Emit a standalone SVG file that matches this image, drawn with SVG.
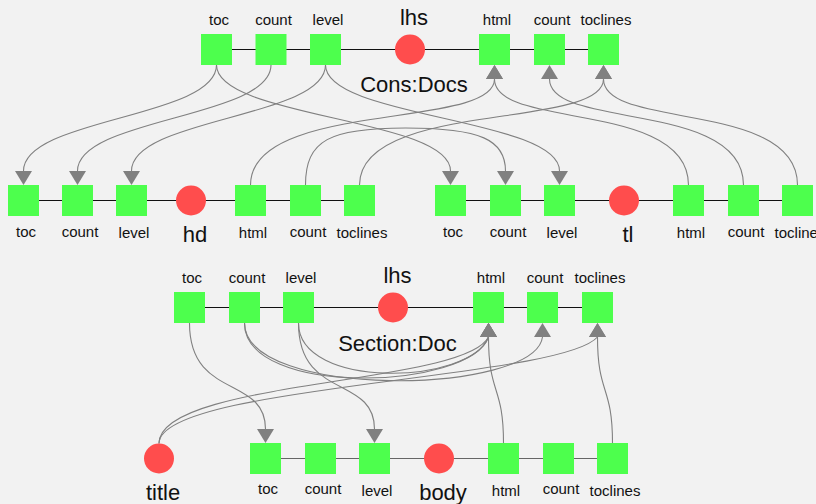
<svg xmlns="http://www.w3.org/2000/svg" width="816" height="504" viewBox="0 0 816 504">
<defs>
<style>
.bg{fill:#f2f2f2}
.sq{fill:#4dff4d}
.ci{fill:#ff4d4d}
.row{stroke:#111;stroke-width:1;fill:none}
.row2{stroke:#666;stroke-width:1.2;fill:none}
.e{stroke:#808080;stroke-width:1.1;fill:none}
.dn{marker-end:url(#ad)}
.up{marker-end:url(#au)}
text{font-family:"Liberation Sans",Arial,sans-serif;fill:#111;text-anchor:middle}
.s{font-size:15px}
.b{font-size:22px}
</style>
<marker id="ad" viewBox="0 0 17 14" refX="8.5" refY="0" markerWidth="17" markerHeight="14" markerUnits="userSpaceOnUse" orient="0"><path d="M0,0 L17,0 L8.5,14 z" fill="#808080"/></marker>
<marker id="au" viewBox="0 0 17 14" refX="8.5" refY="14" markerWidth="17" markerHeight="14" markerUnits="userSpaceOnUse" orient="0"><path d="M0,14 L17,14 L8.5,0 z" fill="#808080"/></marker>
</defs>
<rect class="bg" x="0" y="0" width="816" height="504"/>
<g id="connectors">
<line class="row" x1="216.5" y1="49.5" x2="603.5" y2="49.5"/>
<line class="row" x1="23.5" y1="200.5" x2="359.5" y2="200.5"/>
<line class="row" x1="450.5" y1="200.5" x2="797.5" y2="200.5"/>
<line class="row" x1="189.5" y1="307.5" x2="597.5" y2="307.5"/>
<line class="row2" x1="265.5" y1="458.5" x2="612.5" y2="458.5"/>
<path class="e dn" d="M216.5,65 C216.5,118 23.5,118 23.5,171"/>
<path class="e dn" d="M216.5,65 C216.5,118 450.5,118 450.5,171"/>
<path class="e dn" d="M271,65 C271,118 77.5,118 77.5,171"/>
<path class="e dn" d="M325.5,65 C325.5,118 131.5,118 131.5,171"/>
<path class="e dn" d="M325.5,65 C325.5,118 559.5,118 559.5,171"/>
<path class="e dn" d="M305.5,185 C305.5,140 330,128 405.5,128 C481,128 505.5,140 505.5,171"/>
<path class="e up" d="M250.5,185 C250.5,100 494.5,130 494.5,79"/>
<path class="e up" d="M688.5,185 C688.5,100 494.5,130 494.5,79"/>
<path class="e up" d="M359.5,185 C359.5,100 603.5,130 603.5,79"/>
<path class="e up" d="M797.5,185 C797.5,100 603.5,130 603.5,79"/>
<path class="e up" d="M743.5,185 C743.5,100 549.5,130 549.5,79"/>
<path class="e dn" d="M189.5,323 C189.5,400 265.5,375 265.5,429"/>
<path class="e dn" d="M298.5,323 C298.5,400 374.5,375 374.5,429"/>
<path class="e up" d="M244.5,323 C244.5,398 470,390 488.5,337"/>
<path class="e up" d="M244.5,323 C244.5,400 535,395 542.5,337"/>
<path class="e up" d="M298.5,323 C298.5,390 470,385 488.5,337"/>
<path class="e up" d="M159,443.5 C159,380 465,385 488.5,337"/>
<path class="e up" d="M159,443.5 C159,385 560,380 597.5,337"/>
<path class="e up" d="M503.5,443 C503.5,385 488.5,395 488.5,337"/>
<path class="e up" d="M612.5,443 C612.5,385 597.5,395 597.5,337"/>
</g>
<g id="cons-docs-label"><text class="b" x="414" y="91.5">Cons:Docs</text></g>
<g id="cd-toc"><rect class="sq" x="201" y="34" width="31" height="31"/><text class="s" x="219" y="25">toc</text></g>
<g id="cd-count-inh"><rect class="sq" x="255.5" y="34" width="31" height="31"/><text class="s" x="273.5" y="25">count</text></g>
<g id="cd-level"><rect class="sq" x="310" y="34" width="31" height="31"/><text class="s" x="328" y="25">level</text></g>
<g id="cd-lhs"><circle class="ci" cx="410" cy="49.5" r="15"/><text class="b" x="414" y="24.5">lhs</text></g>
<g id="cd-html"><rect class="sq" x="479" y="34" width="31" height="31"/><text class="s" x="497" y="25">html</text></g>
<g id="cd-count-syn"><rect class="sq" x="534" y="34" width="31" height="31"/><text class="s" x="552" y="25">count</text></g>
<g id="cd-toclines"><rect class="sq" x="588" y="34" width="31" height="31"/><text class="s" x="606" y="25">toclines</text></g>
<g id="hd-toc"><rect class="sq" x="8" y="185" width="31" height="31"/><text class="s" x="26" y="236.5">toc</text></g>
<g id="hd-count-inh"><rect class="sq" x="62" y="185" width="31" height="31"/><text class="s" x="80" y="236.5">count</text></g>
<g id="hd-level"><rect class="sq" x="116" y="185" width="31" height="31"/><text class="s" x="134" y="238">level</text></g>
<g id="hd"><circle class="ci" cx="191" cy="200.5" r="15"/><text class="b" x="195" y="241.5">hd</text></g>
<g id="hd-html"><rect class="sq" x="235" y="185" width="31" height="31"/><text class="s" x="253" y="238">html</text></g>
<g id="hd-count-syn"><rect class="sq" x="290" y="185" width="31" height="31"/><text class="s" x="308" y="236.5">count</text></g>
<g id="hd-toclines"><rect class="sq" x="344" y="185" width="31" height="31"/><text class="s" x="362" y="238">toclines</text></g>
<g id="tl-toc"><rect class="sq" x="435" y="185" width="31" height="31"/><text class="s" x="453" y="236.5">toc</text></g>
<g id="tl-count-inh"><rect class="sq" x="490" y="185" width="31" height="31"/><text class="s" x="508" y="236.5">count</text></g>
<g id="tl-level"><rect class="sq" x="544" y="185" width="31" height="31"/><text class="s" x="562" y="238">level</text></g>
<g id="tl"><circle class="ci" cx="624" cy="200.5" r="15"/><text class="b" x="628" y="241.5">tl</text></g>
<g id="tl-html"><rect class="sq" x="673" y="185" width="31" height="31"/><text class="s" x="691" y="238">html</text></g>
<g id="tl-count-syn"><rect class="sq" x="728" y="185" width="31" height="31"/><text class="s" x="746" y="236.5">count</text></g>
<g id="tl-toclines"><rect class="sq" x="782" y="185" width="31" height="31"/><text class="s" x="800" y="238">toclines</text></g>
<g id="section-doc-label"><text class="b" x="397.5" y="350.5">Section:Doc</text></g>
<g id="sd-toc"><rect class="sq" x="174" y="292" width="31" height="31"/><text class="s" x="192" y="282.5">toc</text></g>
<g id="sd-count-inh"><rect class="sq" x="229" y="292" width="31" height="31"/><text class="s" x="247" y="282.5">count</text></g>
<g id="sd-level"><rect class="sq" x="283" y="292" width="31" height="31"/><text class="s" x="301" y="282.5">level</text></g>
<g id="sd-lhs"><circle class="ci" cx="393" cy="307.5" r="15"/><text class="b" x="397.5" y="282.5">lhs</text></g>
<g id="sd-html"><rect class="sq" x="473" y="292" width="31" height="31"/><text class="s" x="491" y="282.5">html</text></g>
<g id="sd-count-syn"><rect class="sq" x="527" y="292" width="31" height="31"/><text class="s" x="545" y="282.5">count</text></g>
<g id="sd-toclines"><rect class="sq" x="582" y="292" width="31" height="31"/><text class="s" x="600" y="282.5">toclines</text></g>
<g id="title"><circle class="ci" cx="159" cy="458.5" r="15"/><text class="b" x="163" y="500">title</text></g>
<g id="body-toc"><rect class="sq" x="250" y="443" width="31" height="31"/><text class="s" x="268" y="494">toc</text></g>
<g id="body-count-inh"><rect class="sq" x="305" y="443" width="31" height="31"/><text class="s" x="323" y="494">count</text></g>
<g id="body-level"><rect class="sq" x="359" y="443" width="31" height="31"/><text class="s" x="377" y="495.5">level</text></g>
<g id="body"><circle class="ci" cx="439" cy="458.5" r="15"/><text class="b" x="443" y="499.5">body</text></g>
<g id="body-html"><rect class="sq" x="488" y="443" width="31" height="31"/><text class="s" x="506" y="495.5">html</text></g>
<g id="body-count-syn"><rect class="sq" x="543" y="443" width="31" height="31"/><text class="s" x="561" y="494">count</text></g>
<g id="body-toclines"><rect class="sq" x="597" y="443" width="31" height="31"/><text class="s" x="615" y="495.5">toclines</text></g>
</svg>
